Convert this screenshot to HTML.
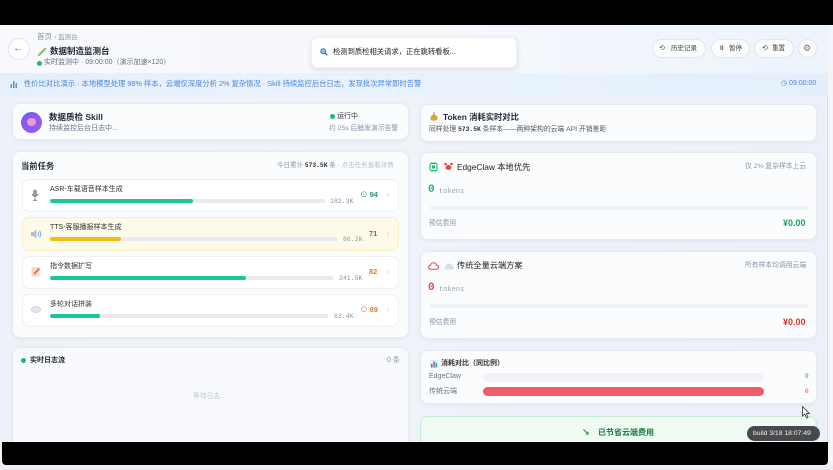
<!DOCTYPE html>
<html><head><meta charset="utf-8">
<style>
*{margin:0;padding:0;box-sizing:border-box}
html,body{width:833px;height:470px;overflow:hidden;background:#eef1f7}
body{position:relative;font-family:"Liberation Sans","Noto Sans CJK SC",sans-serif;color:#1f2937}
.a{position:absolute;white-space:nowrap;line-height:10px}
.m{font-family:"Liberation Mono","DejaVu Sans Mono",monospace}
.card{position:absolute;background:#fbfcfe;border:1px solid #e6eaf1;border-radius:8px;box-shadow:0 1px 3px rgba(30,50,90,.06)}
.row{position:absolute;left:22px;width:377px;height:33px;background:#fff;border:1px solid #eceff4;border-radius:7px}
.bar{position:absolute;height:3.5px;background:#e8ebf0;border-radius:2px;overflow:hidden}
.bar i{position:absolute;left:0;top:0;bottom:0;border-radius:2px}
.pill{position:absolute;top:39px;height:19px;border:1px solid #e2e6ed;border-radius:10px;background:#fbfcfe}
</style></head><body>
<!-- background layers -->
<div style="position:absolute;left:0;top:25px;width:828px;height:48px;background:linear-gradient(90deg,#f7f9fc 0%,#f6f8fc 50%,#edf4fc 100%)"></div>
<div style="position:absolute;left:0;top:73px;width:828px;height:22px;background:linear-gradient(90deg,#e6f0fc,#e9f2fd 60%,#e4effb)"></div>
<div style="position:absolute;left:0;top:95px;width:828px;height:347px;background:linear-gradient(90deg,#eef1f8 0%,#eff2f8 50%,#ecf1f9 100%)"></div>
<div style="position:absolute;left:828px;top:25px;width:5px;height:445px;background:#f3f5f8"></div>
<div style="position:absolute;left:827px;top:95px;width:1px;height:347px;background:#d5dae2"></div>

<!-- header -->
<div style="position:absolute;left:8px;top:38px;width:22px;height:22px;border:1px solid #e1e5ec;border-radius:50%;background:#fff"></div>
<div class="a" style="left:13px;top:44px;font-size:10px;color:#6b7280">←</div>
<div class="a" style="left:37px;top:32px;font-size:7.5px;color:#8a94a6">首页 <span style="font-size:6.5px">› 监测台</span></div>
<svg style="position:absolute;left:38px;top:47px" width="9" height="9" viewBox="0 0 9 9"><path d="M1 8 L7 2" stroke="#7cc26a" stroke-width="2.2" stroke-linecap="round"/><path d="M1 8 L2 6.5" stroke="#e6b24d" stroke-width="2"/></svg>
<div class="a" style="left:50px;top:46px;font-size:8.5px;font-weight:bold;color:#1f2937">数据制造监测台</div>
<div style="position:absolute;left:37px;top:61px;width:5px;height:5px;border-radius:50%;background:#1fb874"></div>
<div class="a" style="left:44px;top:58px;font-size:7px;color:#6b7280">实时监测中 · 09:00:00（演示加速×120）</div>

<!-- toast -->
<div style="position:absolute;left:311px;top:37px;width:206px;height:31px;background:#fff;border-radius:6px;box-shadow:0 2px 6px rgba(30,50,90,.12);border:1px solid #eef0f4"></div>
<svg style="position:absolute;left:320px;top:48px" width="8" height="8" viewBox="0 0 8 8"><circle cx="3.2" cy="3.2" r="2.4" fill="#8fc3ec" stroke="#3f7fc0" stroke-width="1"/><path d="M5 5 L7.3 7.3" stroke="#3f6fa8" stroke-width="1.4"/></svg>
<div class="a" style="left:333px;top:47px;font-size:7.3px;color:#222">检测到质检相关请求，正在跳转看板...</div>

<!-- buttons -->
<div class="pill" style="left:652px;width:54px"></div>
<div class="a" style="left:659px;top:44px;font-size:7px;color:#555">⟲</div>
<div class="a" style="left:671px;top:44px;font-size:6.5px;color:#444">历史记录</div>
<div class="pill" style="left:711px;width:39px"></div>
<div class="a" style="left:720px;top:44px;font-size:6.5px;color:#555;font-weight:bold">II</div>
<div class="a" style="left:729px;top:44px;font-size:6.5px;color:#444">暂停</div>
<div class="pill" style="left:754px;width:40px"></div>
<div class="a" style="left:762px;top:44px;font-size:7px;color:#555">⟲</div>
<div class="a" style="left:772px;top:44px;font-size:6.5px;color:#444">重置</div>
<div class="pill" style="left:798px;width:19px;border-radius:50%"></div>
<div class="a" style="left:803px;top:43px;font-size:9px;color:#777">⚙</div>

<!-- banner -->
<svg style="position:absolute;left:10px;top:80px" width="8" height="8" viewBox="0 0 8 8"><rect x="0.5" y="4" width="1.4" height="4" fill="#4a8de0"/><rect x="3" y="1" width="1.4" height="7" fill="#4a8de0"/><rect x="5.5" y="3" width="1.4" height="5" fill="#4a8de0"/></svg>
<div class="a" style="left:24px;top:79px;font-size:7.3px;color:#4a86d8">性价比对比演示 · 本地模型处理 98% 样本，云端仅深度分析 2% 复杂情况 · Skill 持续监控后台日志，发现批次异常即时告警</div>
<div class="a" style="left:781px;top:79px;font-size:7px;color:#4a86d8">◷ 09:00:00</div>

<!-- left card 1 -->
<div class="card" style="left:12px;top:103px;width:397px;height:37px"></div>
<div style="position:absolute;left:21px;top:112px;width:21px;height:21px;border-radius:50%;background:linear-gradient(135deg,#6a5cf2,#a35cf0)"></div>
<div style="position:absolute;left:27px;top:118px;width:9px;height:8px;border-radius:50%;background:#f59ac4"></div>
<div class="a" style="left:49px;top:112px;font-size:8.5px;font-weight:bold;color:#1f2937">数据质检 Skill</div>
<div class="a" style="left:49px;top:124px;font-size:7px;color:#6b7280">持续监控后台日志中...</div>
<div style="position:absolute;left:330px;top:114px;width:5px;height:5px;border-radius:50%;background:#1fb874"></div>
<div class="a" style="left:337px;top:112px;font-size:7px;color:#333">运行中</div>
<div class="a" style="left:329px;top:124px;font-size:6.8px;color:#8a94a6">约 25s 后触发演示告警</div>

<!-- left card 2 -->
<div class="card" style="left:12px;top:151px;width:397px;height:187px"></div>
<div class="a" style="left:21px;top:161px;font-size:8.3px;font-weight:bold;color:#1f2937">当前任务</div>
<div class="a" style="left:277px;top:161px;font-size:6.5px;color:#8a94a6">今日累计 <b class="m" style="color:#333;font-size:6.3px">573.5K</b> 条 · <span style="color:#b7bec9">点击任务查看详情</span></div>

<!-- row1 -->
<div class="row" style="top:179px"></div>
<svg style="position:absolute;left:31px;top:189px" width="8" height="12" viewBox="0 0 8 12"><rect x="2" y="0.5" width="4" height="7" rx="2" fill="#9aa1ab"/><path d="M1 5 Q4 10 7 5 M4 8.5 V11 M2 11.3 H6" stroke="#777" stroke-width="0.9" fill="none"/></svg>
<div class="a" style="left:50px;top:185px;font-size:7px;color:#333">ASR-车载语音样本生成</div>
<div class="bar" style="left:50px;top:199px;width:275px"><i style="width:143px;background:#19c99a"></i></div>
<div class="a m" style="left:330px;top:197px;font-size:6.5px;color:#8a94a6">182.3K</div>
<div class="a" style="left:360px;top:190px;font-size:7.5px;color:#22a06b">⊙ <b>94</b></div>
<div class="a" style="left:387px;top:190px;font-size:8px;color:#c0c6d0">›</div>

<!-- row2 -->
<div class="row" style="top:217px;background:#fefaea;border-color:#fbefc4;height:34px"></div>
<svg style="position:absolute;left:30px;top:229px" width="12" height="10" viewBox="0 0 12 10"><path d="M1 3 H3.5 L6.5 0.5 V9.5 L3.5 7 H1 Z" fill="#b8bec8"/><path d="M8 3 Q9.5 5 8 7 M9.5 1.5 Q12 5 9.5 8.5" stroke="#6aa6e0" stroke-width="0.9" fill="none"/></svg>
<div class="a" style="left:50px;top:223px;font-size:7px;color:#333">TTS-客服播报样本生成</div>
<div class="bar" style="left:50px;top:237px;width:288px"><i style="width:71px;background:#f4bd14"></i></div>
<div class="a m" style="left:343px;top:235px;font-size:6.5px;color:#8a94a6">86.2K</div>
<div class="a" style="left:369px;top:229px;font-size:7.5px;color:#b5541e;font-weight:bold">71</div>
<div class="a" style="left:387px;top:229px;font-size:8px;color:#c0c6d0">›</div>

<!-- row3 -->
<div class="row" style="top:256px"></div>
<svg style="position:absolute;left:31px;top:266px" width="10" height="11" viewBox="0 0 10 11"><rect x="0.5" y="1" width="8" height="9.5" rx="1" fill="#f2d9cf"/><path d="M3 8 L8.5 2.5" stroke="#e0663c" stroke-width="1.6"/></svg>
<div class="a" style="left:50px;top:262px;font-size:7px;color:#333">指令数据扩写</div>
<div class="bar" style="left:50px;top:276px;width:283px"><i style="width:196px;background:#19c99a"></i></div>
<div class="a m" style="left:339px;top:274px;font-size:6.5px;color:#8a94a6">241.5K</div>
<div class="a" style="left:369px;top:267px;font-size:7.5px;color:#d4802a;font-weight:bold">82</div>
<div class="a" style="left:387px;top:267px;font-size:8px;color:#c0c6d0">›</div>

<!-- row4 -->
<div class="row" style="top:294px"></div>
<div style="position:absolute;left:31px;top:306px;width:10px;height:7px;border-radius:50%;background:#e4e7f2;border:1px solid #cfd4e4"></div>
<div class="a" style="left:50px;top:300px;font-size:7px;color:#333">多轮对话拼装</div>
<div class="bar" style="left:50px;top:314px;width:278px"><i style="width:50px;background:#19c99a"></i></div>
<div class="a m" style="left:334px;top:312px;font-size:6.5px;color:#8a94a6">63.4K</div>
<div class="a" style="left:360px;top:305px;font-size:7.5px;color:#d4802a">⊙ <b>89</b></div>
<div class="a" style="left:387px;top:305px;font-size:8px;color:#c0c6d0">›</div>

<!-- left card 3 -->
<div class="card" style="left:12px;top:347px;width:397px;height:110px;background:#f7f9fd"></div>
<div style="position:absolute;left:21px;top:358px;width:5px;height:5px;border-radius:50%;background:#1fb874"></div>
<div class="a" style="left:30px;top:356px;font-size:7px;font-weight:bold;color:#1f2937">实时日志流</div>
<div class="a" style="left:387px;top:356px;font-size:7px;color:#8a94a6">0 条</div>
<div class="a" style="left:193px;top:392px;font-size:6.8px;color:#c3c9d2">等待日志...</div>

<!-- right card 1 -->
<div class="card" style="left:420px;top:104px;width:397px;height:38px"></div>
<svg style="position:absolute;left:430px;top:112px" width="8" height="9" viewBox="0 0 8 9"><path d="M3 0.5 H5 L4.5 2.5 Q8 4 7.5 7 Q7 8.7 4 8.7 Q1 8.7 0.5 7 Q0 4 3.5 2.5 Z" fill="#d9a046"/></svg>
<div class="a" style="left:443px;top:112px;font-size:8.3px;font-weight:bold;color:#1f2937">Token 消耗实时对比</div>
<div class="a" style="left:429px;top:125px;font-size:6.8px;color:#555">同样处理 <b class="m" style="font-size:6.3px;color:#333">573.5K</b> 条样本——两种架构的云端 API 开销差距</div>

<!-- right card 2 -->
<div class="card" style="left:420px;top:152px;width:397px;height:88px"></div>
<svg style="position:absolute;left:429px;top:162px" width="9" height="10" viewBox="0 0 9 10"><rect x="1" y="1.5" width="7" height="7" rx="1.5" fill="none" stroke="#1fb874" stroke-width="1.1"/><rect x="3" y="3.5" width="3" height="3" fill="#1fb874"/><path d="M3 0 V1.5 M6 0 V1.5 M3 8.5 V10 M6 8.5 V10" stroke="#1fb874"/></svg>
<svg style="position:absolute;left:444px;top:162px" width="9" height="9" viewBox="0 0 9 9"><ellipse cx="4.5" cy="5.5" rx="3" ry="2.5" fill="#e5484d"/><circle cx="1.5" cy="2" r="1.3" fill="#e5484d"/><circle cx="7.5" cy="2" r="1.3" fill="#e5484d"/></svg>
<div class="a" style="left:457px;top:162px;font-size:8.3px;color:#222">EdgeClaw 本地优先</div>
<div class="a" style="left:745px;top:162px;font-size:6.8px;color:#8a94a6">仅 2% 复杂样本上云</div>
<div class="a m" style="left:428px;top:185px;font-size:11px;font-weight:bold;color:#22b07d;line-height:11px">0</div>
<div class="a m" style="left:439px;top:187px;font-size:7px;color:#9aa3b0">tokens</div>
<div style="position:absolute;left:430px;top:206px;width:378px;height:4px;border-radius:2px;background:#eef1f5"></div>
<div class="a" style="left:429px;top:219px;font-size:6.8px;color:#8a94a6">预估费用</div>
<div class="a" style="left:783px;top:218px;font-size:9px;font-weight:bold;color:#1e9e5e;line-height:11px">¥0.00</div>

<!-- right card 3 -->
<div class="card" style="left:420px;top:251px;width:397px;height:88px"></div>
<svg style="position:absolute;left:428px;top:262px" width="11" height="8" viewBox="0 0 11 8"><path d="M3 7.3 H8.5 Q10.5 7.3 10.5 5.2 Q10.5 3.3 8.5 3.3 Q8 0.7 5.5 0.7 Q3 0.7 2.7 3.3 Q0.6 3.5 0.6 5.3 Q0.6 7.3 3 7.3 Z" fill="none" stroke="#e5484d" stroke-width="1"/></svg>
<svg style="position:absolute;left:444px;top:263px" width="10" height="7" viewBox="0 0 10 7"><path d="M2.5 6.5 H8 Q9.7 6.5 9.7 4.8 Q9.7 3 8 3 Q7.5 0.5 5 0.5 Q2.7 0.5 2.4 3 Q0.4 3.2 0.4 4.8 Q0.4 6.5 2.5 6.5 Z" fill="#d8dce6"/></svg>
<div class="a" style="left:457px;top:261px;font-size:8.2px;color:#222">传统全量云端方案</div>
<div class="a" style="left:745px;top:261px;font-size:6.8px;color:#8a94a6">所有样本均调用云端</div>
<div class="a m" style="left:428px;top:283px;font-size:11px;font-weight:bold;color:#e5484d;line-height:11px">0</div>
<div class="a m" style="left:439px;top:285px;font-size:7px;color:#9aa3b0">tokens</div>
<div style="position:absolute;left:430px;top:304px;width:378px;height:4px;border-radius:2px;background:#eef1f5"></div>
<div class="a" style="left:429px;top:318px;font-size:6.8px;color:#8a94a6">预估费用</div>
<div class="a" style="left:783px;top:317px;font-size:9px;font-weight:bold;color:#e03131;line-height:11px">¥0.00</div>

<!-- right card 4 -->
<div class="card" style="left:420px;top:350px;width:397px;height:54px"></div>
<svg style="position:absolute;left:430px;top:360px" width="8" height="8" viewBox="0 0 8 8"><rect x="0" y="0" width="8" height="8" fill="#e8ecf2"/><rect x="1" y="4" width="1.5" height="3.5" fill="#e5484d"/><rect x="3.3" y="1.5" width="1.5" height="6" fill="#4a86d8"/><rect x="5.6" y="3" width="1.5" height="4.5" fill="#1fb874"/></svg>
<div class="a" style="left:441px;top:359px;font-size:7px;font-weight:bold;color:#333">消耗对比（同比例）</div>
<div class="a" style="left:429px;top:372px;font-size:7px;color:#6b7280">EdgeClaw</div>
<div style="position:absolute;left:483px;top:373px;width:281px;height:9px;border-radius:5px;background:#f0f2f6"></div>
<div class="a m" style="left:805px;top:372px;font-size:6px;color:#22a06b">0</div>
<div class="a" style="left:429px;top:387px;font-size:7px;color:#6b7280">传统云端</div>
<div style="position:absolute;left:483px;top:387px;width:281px;height:9px;border-radius:5px;background:#f45b69"></div>
<div class="a m" style="left:805px;top:387px;font-size:6px;color:#e5484d">0</div>

<!-- right card 5 -->
<div style="position:absolute;left:420px;top:416px;width:397px;height:40px;border-radius:8px;background:#eefaf2;border:1px solid #c6ecd3"></div>
<div class="a" style="left:582px;top:428px;font-size:8px;color:#17803d;font-weight:bold">↘</div>
<div class="a" style="left:598px;top:428px;font-size:8px;color:#17803d;font-weight:bold">已节省云端费用</div>

<!-- cursor -->
<svg style="position:absolute;left:802px;top:406px" width="8" height="13" viewBox="0 0 8 13"><path d="M0.5 0.5 L0.5 10 L2.8 8 L4.5 12 L6 11.4 L4.4 7.5 L7.3 7.5 Z" fill="#fff" stroke="#333" stroke-width="0.8"/></svg>

<!-- build tooltip -->
<div style="position:absolute;left:747px;top:426px;width:73px;height:15px;border-radius:8px;background:#474a4d"></div>
<div class="a" style="left:753px;top:429px;font-size:6.8px;color:#f2f2f2">build 3/18 18:07:49</div>

<!-- black bars -->
<div style="position:absolute;left:0;top:0;width:833px;height:25px;background:#000"></div>
<div style="position:absolute;left:2px;top:442px;width:826px;height:23px;background:#000;border-radius:0 0 4px 4px"></div>
<div style="position:absolute;left:0;top:465px;width:833px;height:5px;background:#eceef1"></div>
</body></html>
